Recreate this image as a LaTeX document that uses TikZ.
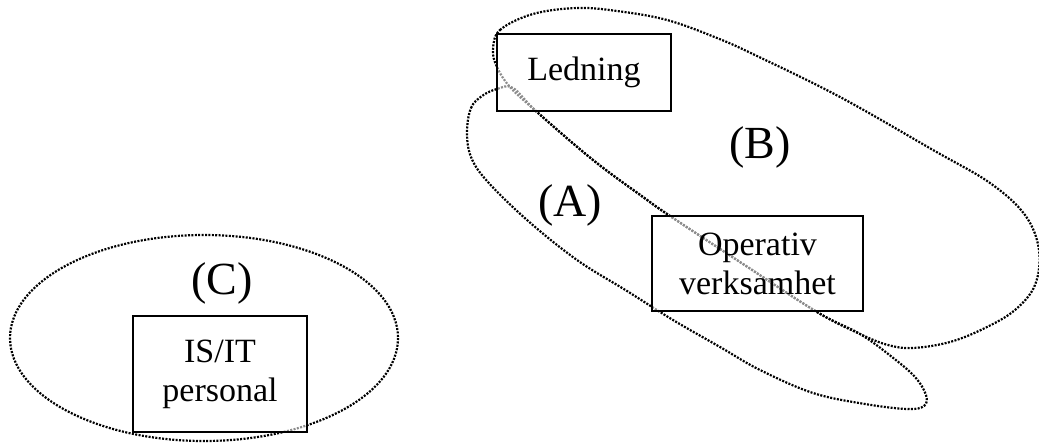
\documentclass[tikz,border=0pt]{standalone}
\usepackage{fontspec}
\setmainfont{Liberation Serif}
\begin{document}
\begin{tikzpicture}[x=1pt,y=-1pt,
  group/.style={line width=2.2pt, line cap=butt, dash pattern=on 2pt off 1.4pt},
  unit/.style={draw, line width=1.8pt, fill=white, fill opacity=0.55, text opacity=1,
               align=center, font=\fontsize{34}{39}\selectfont, inner sep=0pt},
  tag/.style={font=\fontsize{46}{50}\selectfont, anchor=base, inner sep=0pt}]
\useasboundingbox (0,0) rectangle (1039,446);

% group (C): IS/IT staff
\draw[group] (204,338) ellipse [x radius=194, y radius=103];

% group (B): management and operations, upper loop
\draw[group] plot[smooth cycle, tension=0.6] coordinates {
  (493,50) (500,30) (533,14) (577,8) (617,11) (667,20) (717,38) (757,56)
  (840,97) (933,150) (990,183) (1025,215) (1039,250) (1035,285) (1015,310)
  (985,328) (950,342) (913,348) (888,345) (860,334) (817,312) (743,264)
  (670,216) (643,197) (593,160) (537,112) (510,87) (497,67)};

% group (A): management and operations, lower loop
\draw[group] plot[smooth cycle, tension=0.6] coordinates {
  (467,132) (471,108) (482,96) (497,89) (513,88) (537,112) (593,160)
  (643,197) (670,216) (743,264) (817,312) (860,334) (892,357) (915,377)
  (926,395) (924,406) (907,409) (865,404) (813,393) (760,370) (720,347)
  (673,320) (627,291) (577,260) (527,220) (487,181) (471,157)};

% organisational units
\node[unit, minimum width=174pt, minimum height=77pt] (ledning) at (584,72.5) {Ledning};
\node[unit, minimum width=211pt, minimum height=95pt] (operativ) at (757.5,263.5) {Operativ\\verksamhet};
\node[unit, minimum width=174pt, minimum height=116pt] (isit) at (220,374) {IS/IT\\personal};

% group labels
\node[tag] (labelA) at (570,217) {(A)};
\node[tag] (labelB) at (760,159) {(B)};
\node[tag] (labelC) at (222,295) {(C)};
\end{tikzpicture}
\end{document}
